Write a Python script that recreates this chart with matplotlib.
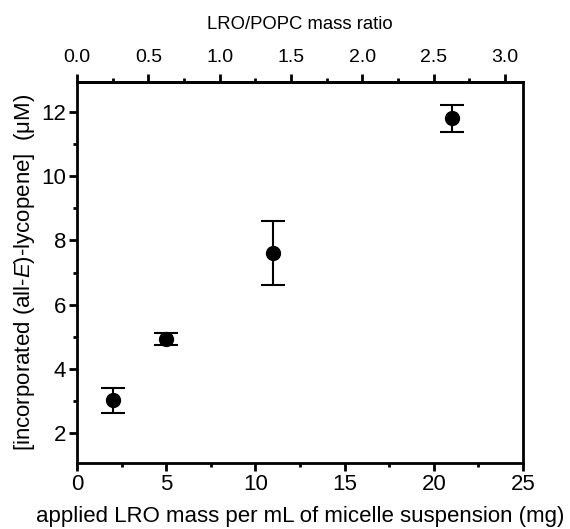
import matplotlib
matplotlib.use("Agg")
import matplotlib.pyplot as plt
from matplotlib.ticker import MultipleLocator, FormatStrFormatter, FixedLocator

plt.rcParams['font.family'] = ['Liberation Sans', 'DejaVu Sans']
plt.rcParams['mathtext.fontset'] = 'custom'
plt.rcParams['mathtext.rm'] = 'Liberation Sans'
plt.rcParams['mathtext.it'] = 'Liberation Sans:italic'

# data
lro_mass = [2, 5, 11, 21]
lycopene = [3.02, 4.93, 7.6, 11.8]
lycopene_err = [0.4, 0.2, 1.0, 0.42]
mass_per_ratio = 8.0  # mg per unit of LRO/POPC mass ratio
x_ticks = [0, 5, 10, 15, 20, 25]
y_ticks = [2, 4, 6, 8, 10, 12]
ratio_ticks = [0.0, 0.5, 1.0, 1.5, 2.0, 2.5, 3.0]
ratio_minor = [0.25, 0.75, 1.25, 1.75, 2.25, 2.75]

fig = plt.figure(figsize=(5.70, 5.29), dpi=100)
ax = fig.add_axes([77 / 570, 66 / 529, 446 / 570, 381 / 529])

ax.errorbar(lro_mass, lycopene, yerr=lycopene_err, fmt='o', color='black',
            markersize=10, capsize=8.5, capthick=1.5, elinewidth=1.5)

ax.set_xlim(0, 25)
ax.set_ylim(1.07, 12.93)
ax.set_xticks(x_ticks)
ax.xaxis.set_minor_locator(MultipleLocator(2.5))
ax.set_yticks(y_ticks)
ax.yaxis.set_minor_locator(MultipleLocator(1))

for s in ax.spines.values():
    s.set_linewidth(2)
ax.tick_params(which='major', direction='out', length=5.8, width=2, labelsize=16, pad=2)
ax.tick_params(which='minor', direction='out', length=3, width=2)
ax.tick_params(axis='x', which='both', top=False)
ax.tick_params(axis='y', which='both', right=False)

ax.set_xlabel('applied LRO mass per mL of micelle suspension (mg)', fontsize=16, labelpad=8)
ax.set_ylabel(r'[incorporated (all-$\it{E}$)-lycopene]  (μM)', fontsize=16, labelpad=3)

sec = ax.secondary_xaxis('top', functions=(lambda x: x / mass_per_ratio,
                                           lambda r: r * mass_per_ratio))
sec.xaxis.set_major_locator(FixedLocator(ratio_ticks))
sec.xaxis.set_minor_locator(FixedLocator(ratio_minor))
sec.xaxis.set_major_formatter(FormatStrFormatter('%.1f'))
sec.spines['top'].set_linewidth(2)
sec.tick_params(which='major', direction='out', length=5.8, width=2, labelsize=14, pad=6)
sec.tick_params(which='minor', direction='out', length=3, width=2)
sec.set_xlabel('LRO/POPC mass ratio', fontsize=13.3, labelpad=14)

fig.savefig('out.png', dpi=100)
